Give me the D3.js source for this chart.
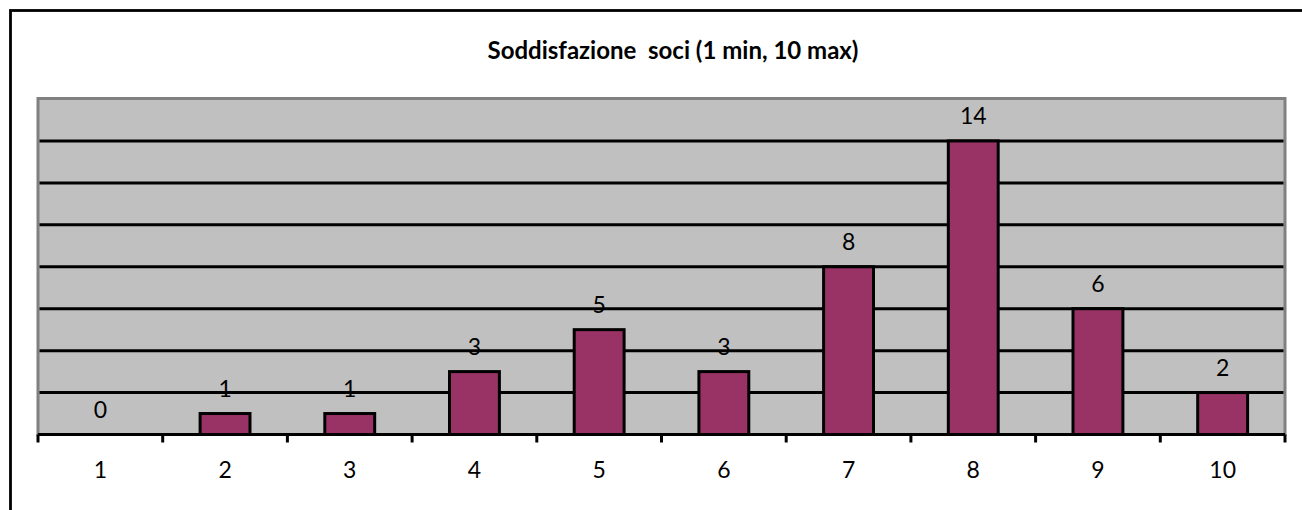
<!DOCTYPE html>
<html>
<head>
<meta charset="utf-8">
<script src="https://cdn.jsdelivr.net/npm/d3@7"></script>
<style>
  body { margin: 0; background: #fff; }
  svg { display: block; }
</style>
</head>
<body>
<svg width="1302" height="510"></svg>
<script>

// dati
const categorie = ["1", "2", "3", "4", "5", "6", "7", "8", "9", "10"];
const valori = [0, 1, 1, 3, 5, 3, 8, 14, 6, 2];
const yTicks = [2, 4, 6, 8, 10, 12, 14];
const titolo = "Soddisfazione  soci (1 min, 10 max)";

let plot = { left: 38, right: 1285, top: 99, bottom: 434.5 };

let svg = d3.select("svg");
let font = "Lato, 'Open Sans', sans-serif";

// cornice esterna (taglia fuori a destra e in basso)
svg.append("rect")
    .attr("x", 10.5)
    .attr("y", 10.5)
    .attr("width", 1400)
    .attr("height", 600)
    .attr("fill", "none")
    .attr("stroke", "#000")
    .attr("stroke-width", 2.8);

let x = d3.scaleBand()
    .domain(categorie)
    .range([plot.left, plot.right])
    .padding(0);

let y = d3.scaleLinear()
    .domain([0, 16])
    .range([plot.bottom, plot.top]);

// area del grafico
svg.append("rect")
    .attr("x", plot.left)
    .attr("y", plot.top - 0.5)
    .attr("width", plot.right - plot.left)
    .attr("height", plot.bottom - plot.top + 0.5)
    .attr("fill", "#c0c0c0")
    .attr("stroke", "#808080")
    .attr("stroke-width", 3);

// griglia
svg.append("g")
    .selectAll("line")
    .data(yTicks)
    .join("line")
    .attr("x1", plot.left + 1.5)
    .attr("x2", plot.right - 1.5)
    .attr("y1", d => y(d))
    .attr("y2", d => y(d))
    .attr("stroke", "#000")
    .attr("stroke-width", 3);

// barre
let barW = x.bandwidth() * 0.4;
svg.append("g")
    .selectAll("rect")
    .data(valori)
    .join("rect")
    .attr("x", (d, i) => x(categorie[i]) + x.bandwidth() / 2 - barW / 2)
    .attr("y", d => y(d))
    .attr("width", barW)
    .attr("height", d => y(0) - y(d))
    .attr("fill", "#993366")
    .attr("stroke", "#000")
    .attr("stroke-width", 3)
    .style("display", d => d > 0 ? null : "none");

// etichette dei valori
svg.append("g")
    .selectAll("text")
    .data(valori)
    .join("text")
    .attr("x", (d, i) => x(categorie[i]) + x.bandwidth() / 2)
    .attr("y", d => y(d) - 17)
    .attr("text-anchor", "middle")
    .attr("font-family", font)
    .attr("font-size", 23)
    .attr("fill", "#000")
    .text(d => d);

// asse x
let asse = svg.append("g")
    .attr("transform", `translate(0,${plot.bottom})`)
    .call(d3.axisBottom(x).tickSize(0).tickPadding(27));

asse.select(".domain")
    .attr("stroke", "#000")
    .attr("stroke-width", 3)
    .attr("d", `M${plot.left},0H${plot.right}`);

asse.selectAll("text")
    .attr("font-family", font)
    .attr("font-size", 23)
    .attr("fill", "#000");

// tacche sui confini delle categorie
asse.selectAll(".tacca")
    .data(categorie.concat(["fine"]))
    .join("line")
    .attr("class", "tacca")
    .attr("x1", (d, i) => i < categorie.length ? x(d) : plot.right)
    .attr("x2", (d, i) => i < categorie.length ? x(d) : plot.right)
    .attr("y1", 0)
    .attr("y2", 8)
    .attr("stroke", "#000")
    .attr("stroke-width", 3);

// titolo
svg.append("text")
    .attr("x", 673)
    .attr("y", 59)
    .attr("text-anchor", "middle")
    .attr("font-family", font)
    .attr("font-weight", "bold")
    .attr("font-size", 24)
    .attr("fill", "#000")
    .style("white-space", "pre")
    .text(titolo);

</script>
</body>
</html>
